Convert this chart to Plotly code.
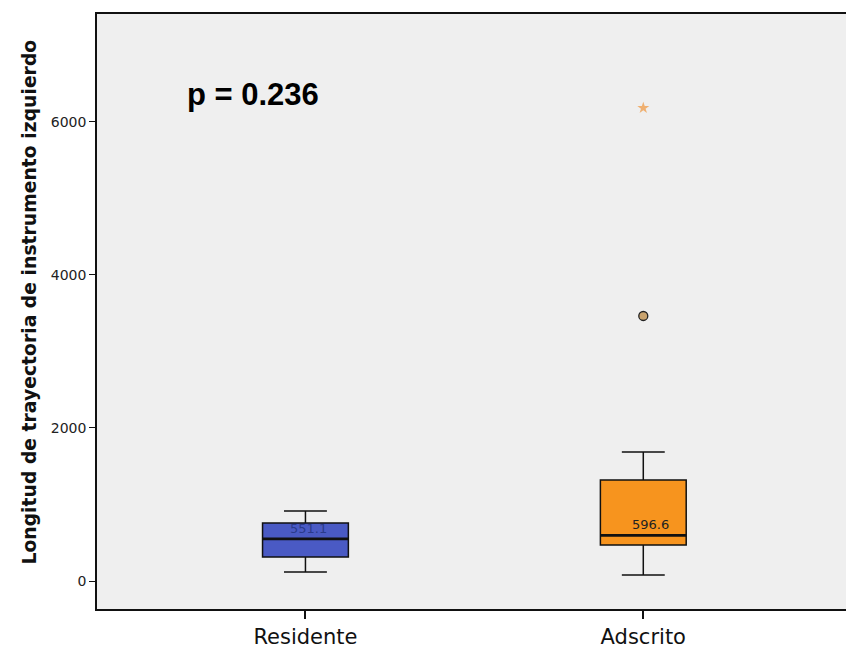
import plotly.graph_objects as go

# Group summary statistics (path length of the left instrument)
groups = ["Residente", "Adscrito"]
q1_vals = [314, 471]
median_vals = [551.1, 596.6]
q3_vals = [758, 1320]
lower_whisker = [118, 78]
upper_whisker = [915, 1686]
box_colors = ["#4a5ac4", "#f7941e"]
median_labels = ["551.1", "596.6"]

# Adscrito atypical values
outlier_group = ["Adscrito"]
outlier_vals = [3464]
extreme_group = ["Adscrito"]
extreme_vals = [6183]

y_ticks = [0, 2000, 4000, 6000]
p_text = "p = 0.236"
y_title = "Longitud de trayectoria de instrumento izquierdo"

BOX_W = 0.254

fig = go.Figure()

for i, g in enumerate(groups):
    fig.add_trace(go.Box(
        x=[g], q1=[q1_vals[i]], median=[median_vals[i]], q3=[q3_vals[i]],
        lowerfence=[lower_whisker[i]], upperfence=[upper_whisker[i]],
        width=BOX_W, whiskerwidth=0.5,
        fillcolor=box_colors[i], line=dict(color="#111111", width=1.5),
        boxpoints=False, hoverinfo="skip", showlegend=False,
    ))
    # heavier median stroke
    fig.add_shape(type="line", xref="x", yref="y",
                  x0=i - BOX_W / 2, x1=i + BOX_W / 2,
                  y0=median_vals[i], y1=median_vals[i],
                  line=dict(color="#111111", width=2.6))

fig.add_trace(go.Scatter(
    x=outlier_group, y=outlier_vals, mode="markers",
    marker=dict(symbol="circle", size=9, color="#c9a36e",
                line=dict(color="#222222", width=1.3)),
    showlegend=False,
))
fig.add_trace(go.Scatter(
    x=extreme_group, y=extreme_vals, mode="markers",
    marker=dict(symbol="star", size=9, color="rgba(240,150,60,0.7)",
                line=dict(width=0)),
    showlegend=False,
))

# Median value labels inside the boxes
label_offsets = [0.01, 0.02]
label_colors = ["#2a3a8c", "#222222"]
for i, g in enumerate(groups):
    fig.add_annotation(
        x=i + label_offsets[i], y=median_vals[i], xref="x", yref="y",
        text=median_labels[i], showarrow=False, yanchor="bottom", yshift=1,
        font=dict(family="DejaVu Sans", size=13, color=label_colors[i]),
    )

fig.add_annotation(
    x=0.1175, xref="paper", y=6353, yref="y", text=p_text,
    showarrow=False, xanchor="left", yanchor="middle",
    font=dict(family="Liberation Sans", size=31, color="black", weight="bold"),
)

# vertical axis title, placed by hand
fig.add_annotation(
    x=-0.09, xref="paper", y=0.516, yref="paper", text=f"<b>{y_title}</b>",
    showarrow=False, textangle=-90, xanchor="center", yanchor="middle",
    font=dict(family="DejaVu Sans", size=18.8, color="#111111"),
)

fig.update_layout(
    width=846, height=654,
    margin=dict(l=97, r=0, t=14, b=45),
    paper_bgcolor="white", plot_bgcolor="#efefef",
    font=dict(family="DejaVu Sans", color="#222222"),
)
fig.update_xaxes(
    type="category", categoryorder="array", categoryarray=groups,
    range=[-0.617, 1.6], showgrid=False, zeroline=False,
    showline=True, linecolor="#111111", linewidth=1.5, mirror=True,
    ticks="outside", ticklen=8, tickcolor="#111111", tickwidth=1.5,
    tickfont=dict(family="DejaVu Sans", size=21, color="#111111"),
)
fig.update_yaxes(
    range=[-366, 7411], tickvals=y_ticks, showgrid=False, zeroline=False,
    showline=True, linecolor="#111111", linewidth=1.5,
    ticks="outside", ticklen=6, tickcolor="#111111", tickwidth=1.2,
    tickfont=dict(family="DejaVu Sans", size=14, color="#222222"),
)

fig.write_html("out.html")
